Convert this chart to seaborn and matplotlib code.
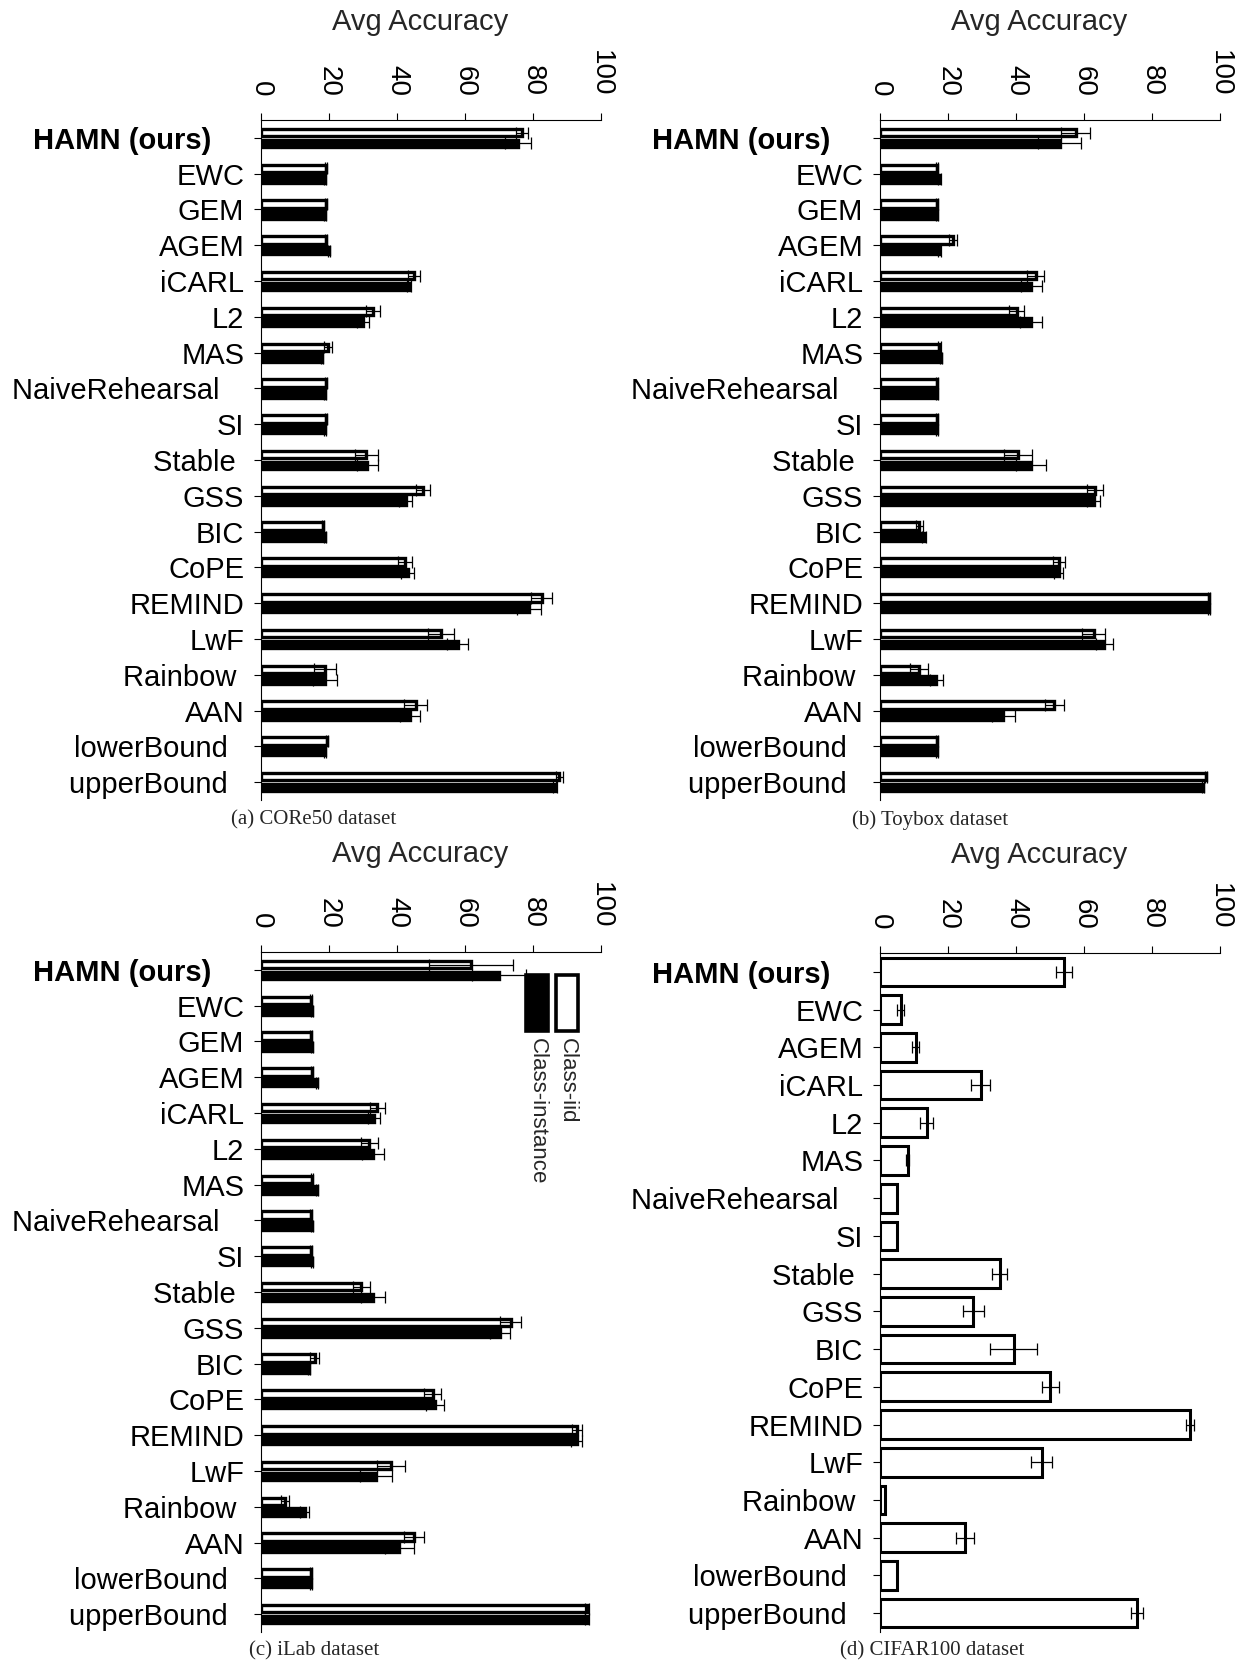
import numpy as np
import pandas as pd
import matplotlib
matplotlib.use("Agg")
import matplotlib.pyplot as plt
from matplotlib.patches import Rectangle
import seaborn as sns

# ---------------------------------------------------------------- data
methods = ["HAMN (ours)", "EWC", "GEM", "AGEM", "iCARL", "L2", "MAS",
           "NaiveRehearsal", "SI", "Stable", "GSS", "BIC", "CoPE", "REMIND",
           "LwF", "Rainbow", "AAN", "lowerBound", "upperBound"]
methods_cifar = [m for m in methods if m != "GEM"]
settings = ["Class-iid", "Class-instance"]

# CORe50
core50_iid = [76.8, 19.1, 19.1, 19.1, 45.0, 33.0, 19.8, 19.1, 19.1, 30.9,
              47.6, 18.3, 42.3, 82.5, 53.0, 18.9, 45.5, 19.3, 87.7]
core50_iid_err = [1.7, 0.3, 0.3, 0.3, 1.7, 2.0, 1.2, 0.3, 0.3, 3.4,
                  2.0, 0.3, 2.0, 3.0, 3.8, 3.2, 3.3, 0.3, 1.0]
core50_inst = [75.5, 18.7, 18.8, 20.0, 43.5, 30.0, 17.8, 18.9, 18.9, 31.3,
               42.5, 18.9, 43.1, 78.8, 57.8, 18.9, 43.8, 18.9, 86.5]
core50_inst_err = [3.8, 0.3, 0.3, 0.3, 0.6, 1.9, 0.3, 0.3, 0.3, 3.0,
                   1.8, 0.3, 2.0, 3.5, 3.1, 3.5, 3.0, 0.3, 0.5]

# Toybox
toybox_iid = [57.5, 16.9, 16.9, 21.5, 45.8, 40.2, 17.5, 16.9, 16.9, 40.6,
              63.2, 11.6, 52.7, 96.9, 62.9, 11.4, 51.3, 16.7, 95.9]
toybox_iid_err = [4.4, 0.3, 0.3, 1.2, 2.5, 2.2, 0.3, 0.3, 0.3, 4.2,
                  2.3, 1.0, 1.8, 0.3, 3.4, 2.7, 2.9, 0.3, 0.3]
toybox_inst = [52.8, 17.5, 16.9, 17.5, 44.5, 44.3, 18.0, 16.9, 16.9, 44.4,
               62.8, 12.9, 52.5, 96.9, 66.0, 16.6, 36.3, 16.7, 95.1]
toybox_inst_err = [6.4, 0.3, 0.3, 0.3, 3.0, 3.2, 0.3, 0.3, 0.3, 4.5,
                   2.0, 0.5, 1.2, 0.3, 2.6, 2.0, 3.5, 0.3, 0.3]

# iLab
ilab_iid = [61.8, 14.6, 14.6, 14.9, 34.2, 31.9, 15.1, 14.6, 14.6, 29.5,
            73.5, 15.8, 50.5, 93.0, 38.2, 7.0, 45.0, 14.6, 95.8]
ilab_iid_err = [12.4, 0.3, 0.3, 0.3, 2.2, 2.6, 0.3, 0.3, 0.3, 2.5,
                3.1, 1.3, 2.5, 1.5, 4.2, 1.1, 3.0, 0.3, 0.6]
ilab_inst = [70.0, 14.9, 14.9, 16.6, 33.2, 33.0, 16.4, 14.9, 14.9, 33.0,
             70.3, 14.2, 51.1, 92.8, 33.8, 12.9, 40.7, 14.8, 96.0]
ilab_inst_err = [7.8, 0.3, 0.3, 0.3, 1.8, 3.2, 0.3, 0.3, 0.3, 3.6,
                 3.0, 0.3, 2.7, 1.5, 4.8, 1.3, 4.2, 0.3, 0.6]

# CIFAR100 (class-iid only)
cifar_acc = [54.2, 6.1, 10.5, 29.6, 13.7, 8.1, 4.9, 4.9, 35.2, 27.4,
             39.3, 50.1, 91.2, 47.5, 1.5, 25.0, 4.9, 75.6]
cifar_err = [2.4, 1.1, 1.1, 2.7, 2.0, 0.4, 0.0, 0.0, 2.2, 3.1,
             7.0, 2.5, 1.1, 3.2, 0.0, 2.7, 0.0, 1.8]

captions = ["(a) CORe50 dataset", "(b) Toybox dataset",
            "(c) iLab dataset", "(d) CIFAR100 dataset"]
x_ticks = [0, 20, 40, 60, 80, 100]
# trailing blanks in some method labels
label_trail = {"HAMN (ours)": 4, "NaiveRehearsal": 3, "Stable": 1,
               "Rainbow": 1, "lowerBound": 2, "upperBound": 2}

# ---------------------------------------------------------------- style
sns.set_style("ticks")
plt.rcParams["font.family"] = ["Liberation Sans", "DejaVu Sans"]
plt.rcParams["axes.linewidth"] = 0.8
plt.rcParams["xtick.major.width"] = 0.8
plt.rcParams["ytick.major.width"] = 0.8

fig = plt.figure(figsize=(12.41, 16.69), dpi=100)
W, H = 1241, 1669


def axes_px(left, top, right, bottom):
    return fig.add_axes([left / W, 1 - bottom / H, (right - left) / W,
                         (bottom - top) / H])


def style_axes(ax, names):
    ax.set_xlim(0, 100)
    ax.set_ylim(len(names) - 0.5, -0.5)
    sns.despine(ax=ax, top=False, right=True, bottom=True, left=False)
    ax.xaxis.tick_top()
    ax.xaxis.set_label_position("top")
    ax.set_xticks(x_ticks)
    ax.set_xticklabels([str(t) for t in x_ticks])
    ax.tick_params(axis="x", which="major", direction="out", length=5,
                   pad=12, labelsize=20, labelrotation=-90, colors="black")
    ax.tick_params(axis="y", which="major", direction="out", length=5,
                   pad=7, labelsize=21, colors="black")
    ax.set_yticks(range(len(names)))
    ax.set_yticklabels([n + " " * label_trail.get(n, 0) for n in names])
    for lab in ax.get_yticklabels():
        if lab.get_text().startswith("HAMN"):
            lab.set_fontweight("bold")
    ax.set_ylabel("")
    ax.set_xlabel("Avg Accuracy", fontsize=21, labelpad=14)
    ax.xaxis.label.set_x(0.468)
    for s in ("top", "left"):
        ax.spines[s].set_color("black")


def paired_panel(ax, iid, iid_err, inst, inst_err):
    df = pd.DataFrame({
        "method": methods * 2,
        "setting": [settings[0]] * len(methods) + [settings[1]] * len(methods),
        "acc": iid + inst,
        "err": iid_err + inst_err,
    })
    sns.barplot(data=df, y="method", x="acc", hue="setting",
                order=methods, hue_order=settings,
                palette={settings[0]: "white", settings[1]: "black"},
                saturation=1, edgecolor="black", linewidth=2.4,
                width=0.6, gap=0.3, errorbar=None, legend=False, ax=ax)
    err_lookup = {(m, s): e for m, s, e in
                  zip(df["method"], df["setting"], df["err"])}
    for p in list(ax.patches):
        yc = p.get_y() + p.get_height() / 2
        idx = int(round(yc))
        setting = settings[0] if yc < idx else settings[1]
        ax.errorbar(p.get_x() + p.get_width(), yc,
                    xerr=err_lookup[(methods[idx], setting)],
                    fmt="none", ecolor="black", elinewidth=0.9,
                    capsize=4, capthick=0.9, zorder=4)
    style_axes(ax, methods)


ax_a = axes_px(261, 120, 601, 800)
paired_panel(ax_a, core50_iid, core50_iid_err, core50_inst, core50_inst_err)
ax_b = axes_px(880, 120, 1220, 800)
paired_panel(ax_b, toybox_iid, toybox_iid_err, toybox_inst, toybox_inst_err)
ax_c = axes_px(261, 952, 601, 1632)
paired_panel(ax_c, ilab_iid, ilab_iid_err, ilab_inst, ilab_inst_err)

# CIFAR100 panel
ax_d = axes_px(880, 953, 1220, 1632)
df_d = pd.DataFrame({"method": methods_cifar, "acc": cifar_acc,
                     "err": cifar_err})
sns.barplot(data=df_d, y="method", x="acc", order=methods_cifar,
            color="white", saturation=1, edgecolor="black", linewidth=2.2,
            width=0.76, errorbar=None, ax=ax_d)
for p, e in zip(ax_d.patches, df_d["err"]):
    yc = p.get_y() + p.get_height() / 2
    ax_d.errorbar(p.get_x() + p.get_width(), yc, xerr=e, fmt="none",
                  ecolor="black", elinewidth=0.9, capsize=4, capthick=0.9,
                  zorder=4)
style_axes(ax_d, methods_cifar)

# legend (rotated) inside the iLab panel
for label, face, x0 in [(settings[0], "white", 0.868),
                        (settings[1], "black", 0.7794)]:
    ax_c.add_patch(Rectangle((x0, 0.8834), 0.0647, 0.0832,
                             transform=ax_c.transAxes, facecolor=face,
                             edgecolor="black", linewidth=2.6,
                             clip_on=False, zorder=6))
    ax_c.text(x0 + 0.0323, 0.8735, label, transform=ax_c.transAxes,
              rotation=-90, ha="center", va="top", fontsize=16, zorder=6)

# sub-figure captions
for cap, (cx, cy) in zip(captions, [(314, 820), (930, 820),
                                    (314, 1651), (932, 1651)]):
    fig.text(cx / W, 1 - cy / H, cap, ha="center", va="center",
             fontsize=15, family=["Liberation Serif", "DejaVu Serif"])

fig.savefig("out.png", dpi=100)
